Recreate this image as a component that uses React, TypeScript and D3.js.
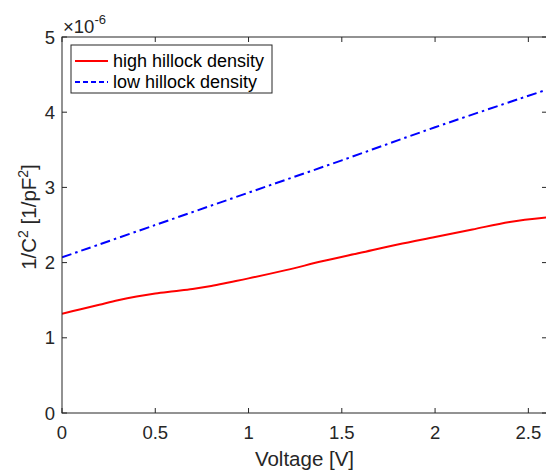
import React from "react";
import * as d3 from "d3";

const voltage = [0, 0.1, 0.2, 0.3, 0.4, 0.5, 0.6, 0.7, 0.8, 0.9, 1.0, 1.2, 1.4, 1.6, 1.8, 2.0, 2.2, 2.4, 2.6];
const highDensity = [1.32, 1.38, 1.44, 1.5, 1.55, 1.59, 1.62, 1.65, 1.69, 1.74, 1.79, 1.9, 2.02, 2.13, 2.24, 2.34, 2.44, 2.54, 2.6];
const lowVoltage = [0, 0.5, 1.0, 1.5, 2.0, 2.6];
const lowDensity = [2.07, 2.5, 2.93, 3.36, 3.8, 4.3];
const xTicks = [0, 0.5, 1, 1.5, 2, 2.5];
const yTicks = [0, 1, 2, 3, 4, 5];
const legendLabels = ["high hillock density", "low hillock density"];

const W = 546, H = 473;
const L = 62, R = 547, T = 37, B = 413;
const FONT = "'Liberation Sans', Arial, Helvetica, sans-serif";
const AX = "#262626";

export default function App() {
  const x = d3.scaleLinear().domain([0, 2.6]).range([L, R]);
  const y = d3.scaleLinear().domain([0, 5]).range([B, T]);
  const line = d3.line<[number, number]>().x(d => x(d[0])).y(d => y(d[1])).curve(d3.curveCatmullRom.alpha(0.5));
  const redPath = line(voltage.map((v, i) => [v, highDensity[i]] as [number, number])) || "";
  const bluePath = line(lowVoltage.map((v, i) => [v, lowDensity[i]] as [number, number])) || "";
  const tl = 5;
  return (
    <svg width={W} height={H} style={{ position: "absolute", left: 0, top: 0, background: "#fff" }} fontFamily={FONT}>
      <rect x={0} y={0} width={W} height={H} fill="#fff" />
      <defs>
        <clipPath id="plotclip"><rect x={L} y={T} width={R - L} height={B - T} /></clipPath>
      </defs>
      <g clipPath="url(#plotclip)">
        <path d={redPath} fill="none" stroke="#ff0000" strokeWidth={2} />
        <path d={bluePath} fill="none" stroke="#0000ff" strokeWidth={2} strokeDasharray="10,4,2.5,4" />
      </g>
      <rect x={L} y={T} width={R - L} height={B - T} fill="none" stroke={AX} strokeWidth={1} />
      {xTicks.map(t => (
        <g key={"x" + t}>
          <line x1={x(t)} x2={x(t)} y1={B} y2={B - tl} stroke={AX} />
          <line x1={x(t)} x2={x(t)} y1={T} y2={T + tl} stroke={AX} />
          <text x={x(t)} y={439} textAnchor="middle" fontSize={18.5} fill={AX}>{String(t)}</text>
        </g>
      ))}
      {yTicks.map(t => (
        <g key={"y" + t}>
          <line x1={L} x2={L + tl} y1={y(t)} y2={y(t)} stroke={AX} />
          <line x1={R} x2={R - tl} y1={y(t)} y2={y(t)} stroke={AX} />
          <text x={55} y={y(t) + 6.5} textAnchor="end" fontSize={18.5} fill={AX}>{String(t)}</text>
        </g>
      ))}
      <text x={63} y={33} fontSize={18.5} fill={AX}>
        ×10<tspan fontSize={13} dy={-9}>-6</tspan>
      </text>
      <text x={(L + R) / 2} y={466} textAnchor="middle" fontSize={20.5} fill={AX}>Voltage [V]</text>
      <text transform="translate(36,217) rotate(-90)" textAnchor="middle" fontSize={20.5} fill={AX}>
        1/C<tspan fontSize={14} dy={-8}>2</tspan><tspan dy={8}> [1/pF</tspan><tspan fontSize={14} dy={-8}>2</tspan><tspan dy={8}>]</tspan>
      </text>
      <rect x={71} y={45} width={201} height={48} fill="#fff" stroke={AX} strokeWidth={1} />
      {legendLabels.map((lab, i) => {
        const cy = 61 + i * 21;
        return (
          <g key={lab}>
            <line x1={75} x2={108} y1={cy} y2={cy} stroke={i === 0 ? "#ff0000" : "#0000ff"} strokeWidth={2}
              strokeDasharray={i === 0 ? undefined : "5,3"} />
            <text x={113} y={cy + 6} fontSize={18} fill="#000">{lab}</text>
          </g>
        );
      })}
    </svg>
  );
}
